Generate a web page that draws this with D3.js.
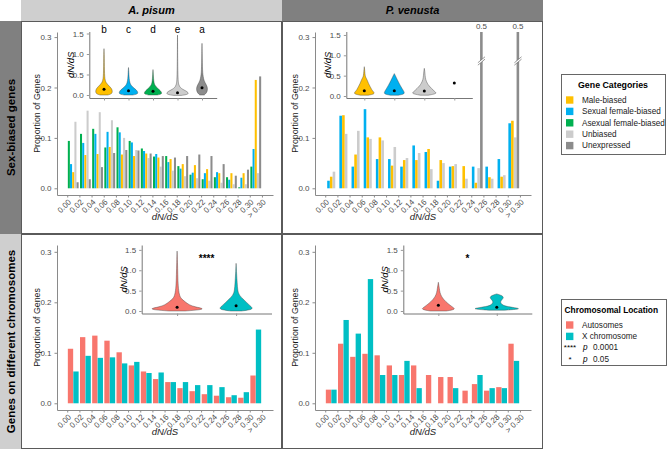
<!DOCTYPE html>
<html><head><meta charset="utf-8">
<script src="https://cdn.jsdelivr.net/npm/d3@7"></script>
<style>body{margin:0;background:#fff} svg{display:block;font-family:"Liberation Sans",Arial,sans-serif}</style>
</head><body><svg id="c" width="667" height="449"></svg>
<script>
// ---------------- DATA ----------------
const binLo = [0.00,0.02,0.04,0.06,0.08,0.10,0.12,0.14,0.16,0.18,0.20,0.22,0.24,0.26,0.28,0.30];
const binW = 0.02;
const xTickVals = [0.00,0.02,0.04,0.06,0.08,0.10,0.12,0.14,0.16,0.18,0.20,0.22,0.24,0.26,0.28,0.30,0.32];
const xTickLabels = ["0.00","0.02","0.04","0.06","0.08","0.10","0.12","0.14","0.16","0.18","0.20","0.22","0.24","0.26","0.28","0.30","> 0.30"];
const yTickVals = [0.0,0.1,0.2,0.3];
const insetTickVals = [0.0,0.5,1.0,1.5];

const species = ["A. pisum","P. venusta"];
const rowLabels = ["Sex-biased genes","Genes on different chromosomes"];

const sexCats = ["Male-biased","Sexual female-biased","Asexual female-biased","Unbiased","Unexpressed"];
const sexColors = ["#FFC000","#00B0F0","#00B050","#CCCCCC","#8C8C8C"];
const dodgeOrder = ["Asexual female-biased","Sexual female-biased","Male-biased","Unbiased","Unexpressed"];

// A. pisum, proportion of genes per dN/dS bin
const apMale  = [0.032,0.066,0.068,0.082,0.067,0.064,0.069,0.061,0.058,0.048,0.046,0.038,0.030,0.030,0.030,0.215];
const apSexF  = [0.048,0.090,0.108,0.112,0.111,0.091,0.074,0.068,0.052,0.039,0.031,0.030,0.032,0.017,0.021,0.078];
const apAsexF = [0.094,0.108,0.118,0.081,0.121,0.094,0.079,0.063,0.064,0.044,0.027,0.018,0.022,0.022,0.002,0.043];
const apUnb   = [0.132,0.154,0.151,0.135,0.100,0.076,0.060,0.043,0.035,0.024,0.020,0.015,0.011,0.008,0.008,0.030];
const apUnexp = [0.012,0.018,0.042,0.070,0.076,0.075,0.069,0.064,0.061,0.064,0.067,0.064,0.048,0.025,0.037,0.222];
// P. venusta
const pvMale  = [0.023,0.145,0.067,0.101,0.101,0.045,0.056,0.056,0.078,0.056,0.044,0.044,0.011,0.022,0.023,0.134];
const pvSexF  = [0.015,0.144,0.043,0.157,0.058,0.058,0.043,0.085,0.072,0.015,0.043,null,0.043,0.043,0.058,0.129];
const pvUnb   = [0.033,0.108,0.114,0.098,0.095,0.082,0.060,0.070,0.038,0.050,0.048,0.019,0.040,0.019,0.026,0.101];
const pvUnexp = [null,null,null,null,null,null,null,null,null,null,null,null,0.5,null,null,0.5];

const chromCats = ["Autosomes","X chromosome"];
const chromColors = ["#F8766D","#00BFC4"];
const apAuto = [0.108,0.131,0.134,0.124,0.101,0.075,0.063,0.048,0.042,0.030,0.024,0.018,0.015,0.012,0.011,0.055];
const apX    = [0.063,0.094,0.090,0.091,0.079,0.082,0.060,0.061,0.042,0.042,0.036,0.036,0.032,0.016,0.022,0.146];
const pvAuto = [0.027,0.118,0.092,0.098,0.095,0.075,0.056,0.075,0.056,0.052,0.052,0.025,0.038,0.025,0.032,0.118];
const pvX    = [0.027,0.165,0.138,0.246,0.056,0.056,0.084,0.030,null,null,0.030,null,0.056,0.030,0.030,0.084];

// violin profiles: [dN/dS, relative density]
const apVioMale  = [[0.0,0.35],[0.02,0.62],[0.05,0.74],[0.1,0.76],[0.15,0.7],[0.2,0.54],[0.25,0.35],[0.3,0.2],[0.35,0.11],[0.45,0.06],[0.6,0.04],[0.8,0.03],[1.0,0.02],[1.13,0]];
const apVioSexF  = [[0.0,0.4],[0.02,0.78],[0.05,0.86],[0.1,0.8],[0.15,0.58],[0.2,0.36],[0.25,0.2],[0.3,0.12],[0.4,0.06],[0.5,0.04],[0.6,0.02],[0.67,0]];
const apVioAsexF = [[0.0,0.4],[0.02,0.76],[0.05,0.8],[0.1,0.7],[0.15,0.47],[0.2,0.28],[0.25,0.15],[0.3,0.09],[0.4,0.05],[0.5,0.03],[0.62,0]];
const apVioUnb   = [[-0.01,0.35],[0.01,0.88],[0.04,1.0],[0.08,0.9],[0.12,0.6],[0.16,0.35],[0.2,0.2],[0.25,0.12],[0.3,0.08],[0.4,0.05],[0.6,0.03],[0.8,0.02],[1.1,0.01],[1.46,0]];
const apVioUnexp = [[0.0,0.2],[0.05,0.4],[0.1,0.48],[0.15,0.5],[0.2,0.47],[0.25,0.39],[0.3,0.28],[0.35,0.2],[0.4,0.14],[0.5,0.08],[0.6,0.05],[0.8,0.03],[1.0,0.02],[1.26,0]];
const apVioMean  = [0.14,0.105,0.09,0.057,0.18];
const apLetters  = ["b","c","d","e","a"];

const pvVioMale  = [[0.02,0.3],[0.05,0.78],[0.1,0.7],[0.15,0.55],[0.23,0.44],[0.3,0.32],[0.39,0.22],[0.45,0.12],[0.5,0.06],[0.6,0.04],[0.72,0]];
const pvVioSexF  = [[0.02,0.3],[0.05,0.8],[0.12,0.7],[0.25,0.45],[0.4,0.22],[0.5,0.08],[0.55,0]];
const pvVioUnb   = [[0.02,0.3],[0.06,0.95],[0.1,0.8],[0.19,0.52],[0.25,0.35],[0.31,0.22],[0.4,0.1],[0.5,0.06],[0.6,0.04],[0.68,0]];
const pvVioMean  = [0.13,0.13,0.12,0.32];

const apVioAuto = [[0.0,0.3],[0.03,0.9],[0.06,1.0],[0.1,0.68],[0.15,0.45],[0.23,0.3],[0.3,0.15],[0.4,0.08],[0.6,0.04],[0.9,0.025],[1.2,0.015],[1.47,0]];
const apVioX    = [[0.0,0.2],[0.03,0.55],[0.07,0.64],[0.15,0.49],[0.27,0.3],[0.39,0.11],[0.5,0.06],[0.7,0.04],[0.9,0.02],[1.17,0]];
const apChromMean = [0.09,0.13];
const pvVioAuto = [[0.0,0.3],[0.04,0.68],[0.1,0.53],[0.23,0.27],[0.35,0.12],[0.45,0.06],[0.55,0.04],[0.705,0]];
const pvVioX    = [[0.02,0.3],[0.05,0.95],[0.08,0.7],[0.12,0.3],[0.16,0.2],[0.22,0.12],[0.28,0.2],[0.33,0.27],[0.38,0.2],[0.42,0]];
const pvChromMean = [0.14,0.09];
const apSig = "****", pvSig = "*";

// ---------------- DRAW ----------------
const svg = d3.select("#c");
const tickCol = "#4D4D4D", axisCol = "#8a8a8a";
const tickFont = 8;

// strips
const colX = [21,282,543], rowY = [21,234,449];
const topStripFill = ["#CFCFCF","#808080"], sideStripFill = ["#808080","#CFCFCF"];
species.forEach((s,i)=>{
  svg.append("rect").attr("x",colX[i]).attr("y",0).attr("width",colX[i+1]-colX[i]).attr("height",rowY[0]).attr("fill",topStripFill[i]);
  svg.append("text").attr("x",(colX[i]+colX[i+1])/2).attr("y",rowY[0]/2).attr("dy","0.36em")
    .attr("text-anchor","middle").attr("font-size",11).attr("font-weight","bold").attr("font-style","italic").text(s);
});
rowLabels.forEach((s,i)=>{
  svg.append("rect").attr("x",0).attr("y",rowY[i]).attr("width",colX[0]).attr("height",rowY[i+1]-rowY[i]).attr("fill",sideStripFill[i]);
  svg.append("text").attr("transform",`translate(${colX[0]/2},${(rowY[i]+rowY[i+1])/2}) rotate(-90)`).attr("dy","0.36em")
    .attr("text-anchor","middle").attr("font-size",11.5).attr("font-weight","bold").text(s);
});
// panel borders
for(let r=0;r<2;r++) for(let c=0;c<2;c++){
  svg.append("rect").attr("x",colX[c]+0.5).attr("y",rowY[r]+0.5).attr("width",colX[c+1]-colX[c]-1).attr("height",rowY[r+1]-rowY[r]-1)
    .attr("fill","none").attr("stroke","#5a5a5a").attr("stroke-width",1);
}

function histPanel(cfg){
  const g = svg.append("g");
  const x = d3.scaleLinear().domain([-0.0168,0.3382]).range(cfg.xr);
  const y = d3.scaleLinear().domain(cfg.yd).range(cfg.yr);
  const nMax = cfg.series.length;
  const dodgeW = binW*0.9, barW = dodgeW/nMax;
  binLo.forEach((lo,k)=>{
    const present = cfg.series.filter(s=>s.values[k]!=null);
    const c = lo + binW/2;
    present.forEach((s,j)=>{
      const x0 = c + (j - present.length/2)*barW;
      const v = s.values[k];
      const top = Math.min(v, cfg.yd[1]);
      g.append("rect").attr("x",x(x0)).attr("width",x(x0+barW)-x(x0)-0.15)
        .attr("y",y(top)).attr("height",y(0)-y(top)).attr("fill",s.color);
      if(v>cfg.yd[1]){
        const bx0 = x(x0)-2.2, bx1 = x(x0+barW)+2.2, yb = y(0.255);
        g.append("path").attr("d",`M${bx0},${yb+3}L${bx1},${yb-3}L${bx1},${yb-0.6}L${bx0},${yb+5.4}Z`).attr("fill","#fff");
        g.append("path").attr("d",`M${bx0},${yb+3}L${bx1},${yb-3}M${bx0},${yb+5.4}L${bx1},${yb-0.6}`).attr("stroke","#555").attr("stroke-width",0.6);
        g.append("text").attr("x",x(x0+barW/2)).attr("y",y(cfg.yd[1])-3).attr("text-anchor","middle")
          .attr("font-size",tickFont).attr("fill",tickCol).text(d3.format(".1f")(v));
      }
    });
  });
  // axes
  const ax = g.append("g").attr("transform",`translate(0,${cfg.yr[0]})`)
    .call(d3.axisBottom(x).tickValues(xTickVals).tickFormat((d,i)=>xTickLabels[i]).tickSize(2.5).tickSizeOuter(0));
  ax.select(".domain").attr("stroke",axisCol);
  ax.selectAll(".tick line").attr("stroke",axisCol);
  ax.selectAll("text").attr("y",0).attr("dy","0.35em").attr("transform","translate(2,5.5) rotate(-45)")
    .attr("text-anchor","end").attr("font-size",tickFont).attr("fill",tickCol).attr("font-family","Liberation Sans, Arial");
  const ay = g.append("g").attr("transform",`translate(${cfg.xr[0]},0)`)
    .call(d3.axisLeft(y).tickValues(yTickVals).tickFormat(d3.format(".1f")).tickSize(2.5).tickSizeOuter(0));
  ay.select(".domain").attr("stroke",axisCol);
  ay.selectAll(".tick line").attr("stroke",axisCol);
  ay.selectAll("text").attr("font-size",tickFont).attr("fill",tickCol).attr("font-family","Liberation Sans, Arial");
  g.append("text").attr("transform",`translate(${cfg.xr[0]-17},${(cfg.yr[0]+cfg.yr[1])/2}) rotate(-90)`)
    .attr("text-anchor","middle").attr("font-size",8.8).attr("fill","#1a1a1a").text("Proportion of Genes");
  g.append("text").attr("x",(cfg.xr[0]+cfg.xr[1])/2).attr("y",cfg.yr[0]+25).attr("text-anchor","middle")
    .attr("font-size",9.5).attr("font-style","italic").attr("fill","#1a1a1a").text("dN/dS");
}

function inset(cfg){
  const g = svg.append("g");
  const n = cfg.violins.length;
  const x = d3.scaleLinear().domain([0.4,n+0.6]).range(cfg.xr);
  const y = d3.scaleLinear().domain(cfg.yd).range(cfg.yr);
  const halfMax = (x(2)-x(1))*0.45;
  cfg.violins.forEach((v,i)=>{
    const cx = x(i+1);
    if(v.prof){
      const area = d3.area().curve(d3.curveBasis).y(d=>y(d[0]))
        .x0(d=>cx-d[1]*halfMax).x1(d=>cx+d[1]*halfMax);
      g.append("path").attr("d",area(v.prof)).attr("fill",v.color).attr("stroke","#3a3a3a").attr("stroke-width",0.4);
    }
    g.append("circle").attr("cx",cx).attr("cy",y(v.mean)).attr("r",1.5).attr("fill","#000");
    if(v.letter) g.append("text").attr("x",cx).attr("y",y(1.5)-1).attr("text-anchor","middle").attr("font-size",10).text(v.letter);
  });
  const ax = g.append("g").attr("transform",`translate(0,${cfg.yr[0]})`)
    .call(d3.axisBottom(x).tickValues(d3.range(1,n+1)).tickFormat("").tickSize(2.5).tickSizeOuter(0));
  ax.select(".domain").attr("stroke","#777");
  ax.selectAll(".tick line").attr("stroke","#999");
  const ay = g.append("g").attr("transform",`translate(${cfg.xr[0]},0)`)
    .call(d3.axisLeft(y).tickValues(insetTickVals).tickFormat(d3.format(".1f")).tickSize(2.5).tickSizeOuter(0));
  ay.select(".domain").attr("stroke","#777");
  ay.selectAll(".tick line").attr("stroke","#999");
  ay.selectAll("text").attr("font-size",tickFont).attr("fill",tickCol).attr("font-family","Liberation Sans, Arial");
  g.append("text").attr("transform",`translate(${cfg.xr[0]-15},${(cfg.yr[0]+cfg.yr[1])/2}) rotate(-90)`)
    .attr("text-anchor","middle").attr("font-size",9.5).attr("font-style","italic").text("dN/dS");
  if(cfg.sig) g.append("text").attr("x",(x(1)+x(2))/2).attr("y",y(1.38)).attr("dy","0.7em").attr("text-anchor","middle")
    .attr("font-size",10).attr("font-weight","bold").text(cfg.sig);
}

const colSex = Object.fromEntries(sexCats.map((c,i)=>[c,sexColors[i]]));
const apSexVals = {"Male-biased":apMale,"Sexual female-biased":apSexF,"Asexual female-biased":apAsexF,"Unbiased":apUnb,"Unexpressed":apUnexp};
const pvSexVals = {"Male-biased":pvMale,"Sexual female-biased":pvSexF,"Unbiased":pvUnb,"Unexpressed":pvUnexp};

const topYD = [-0.0133,0.3101], botYD = [-0.0133,0.3135];
histPanel({xr:[57,273], yr:[195,32], yd:topYD,
  series: dodgeOrder.filter(c=>apSexVals[c]).map(c=>({values:apSexVals[c],color:colSex[c]}))});
histPanel({xr:[315,531], yr:[195,32], yd:topYD,
  series: dodgeOrder.filter(c=>pvSexVals[c]).map(c=>({values:pvSexVals[c],color:colSex[c]}))});
histPanel({xr:[57,273], yr:[410,245], yd:botYD,
  series:[{values:apAuto,color:chromColors[0]},{values:apX,color:chromColors[1]}]});
histPanel({xr:[315,531], yr:[410,245], yd:botYD,
  series:[{values:pvAuto,color:chromColors[0]},{values:pvX,color:chromColors[1]}]});

inset({xr:[89.3,216.7], yr:[98,31.5], yd:[-0.073,1.549], violins:[
  {prof:apVioMale,color:colSex["Male-biased"],mean:apVioMean[0],letter:apLetters[0]},
  {prof:apVioSexF,color:colSex["Sexual female-biased"],mean:apVioMean[1],letter:apLetters[1]},
  {prof:apVioAsexF,color:colSex["Asexual female-biased"],mean:apVioMean[2],letter:apLetters[2]},
  {prof:apVioUnb,color:colSex["Unbiased"],mean:apVioMean[3],letter:apLetters[3]},
  {prof:apVioUnexp,color:colSex["Unexpressed"],mean:apVioMean[4],letter:apLetters[4]}]});
inset({xr:[346.3,472.3], yr:[98,31.5], yd:[-0.049,1.585], violins:[
  {prof:pvVioMale,color:colSex["Male-biased"],mean:pvVioMean[0]},
  {prof:pvVioSexF,color:colSex["Sexual female-biased"],mean:pvVioMean[1]},
  {prof:pvVioUnb,color:colSex["Unbiased"],mean:pvVioMean[2]},
  {prof:null,color:colSex["Unexpressed"],mean:pvVioMean[3]}]});
inset({xr:[141.7,271.5], yr:[313.5,245], yd:[-0.061,1.62], sig:apSig, violins:[
  {prof:apVioAuto,color:chromColors[0],mean:apChromMean[0]},
  {prof:apVioX,color:chromColors[1],mean:apChromMean[1]}]});
inset({xr:[403.3,531.8], yr:[313.5,245], yd:[-0.061,1.62], sig:pvSig, violins:[
  {prof:pvVioAuto,color:chromColors[0],mean:pvChromMean[0]},
  {prof:pvVioX,color:chromColors[1],mean:pvChromMean[1]}]});

// legends
function legend(cfg){
  const g = svg.append("g");
  g.append("rect").attr("x",cfg.x+0.5).attr("y",cfg.y+0.5).attr("width",cfg.w).attr("height",cfg.h).attr("fill","#fff").attr("stroke","#666");
  g.append("text").attr("x",cfg.titleX).attr("y",cfg.y+13.5).attr("text-anchor",cfg.titleAnchor)
    .attr("font-size",cfg.titleSize).attr("font-weight","bold").text(cfg.title);
  cfg.items.forEach((it,i)=>{
    const yy = cfg.y+26+i*11.4;
    g.append("rect").attr("x",cfg.x+5).attr("y",yy-3.7).attr("width",7.4).attr("height",7.4).attr("fill",it.color);
    g.append("text").attr("x",cfg.x+21).attr("y",yy).attr("dy","0.35em").attr("font-size",8.2).attr("fill","#1a1a1a").text(it.label);
  });
  return g;
}
legend({x:561,y:74,w:104,h:80,title:"Gene Categories",titleX:613,titleAnchor:"middle",titleSize:8.8,
  items:sexCats.map((c,i)=>({label:c,color:sexColors[i]}))});
const lg2 = legend({x:561,y:299,w:105,h:66,title:"Chromosomal Location",titleX:564.5,titleAnchor:"start",titleSize:8.4,
  items:chromCats.map((c,i)=>({label:c,color:chromColors[i]}))});
const sigRows = [{s:"****",p:"0.0001"},{s:"*",p:"0.05"}];
sigRows.forEach((r,i)=>{
  const yy = 347+i*12;
  lg2.append("text").attr("x",570).attr("y",yy).attr("dy","0.35em").attr("text-anchor","middle").attr("font-size",8).text(r.s);
  lg2.append("text").attr("x",583).attr("y",yy).attr("dy","0.35em").attr("font-size",8.2).attr("font-style","italic").text("p");
  lg2.append("text").attr("x",593).attr("y",yy).attr("dy","0.35em").attr("font-size",8.2).attr("fill","#1a1a1a").text(r.p);
});
</script></body></html>
